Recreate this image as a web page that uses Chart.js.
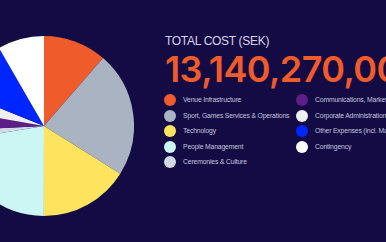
<!DOCTYPE html>
<html>
<head>
<meta charset="utf-8">
<script src="https://cdn.jsdelivr.net/npm/chart.js@4.4.0/dist/chart.umd.min.js"></script>
<style>
  html, body { margin: 0; padding: 0; }
  body {
    width: 386px; height: 242px; overflow: hidden;
    background: #140b44; position: relative;
    font-family: "Liberation Sans", Arial, sans-serif;
  }
  #pieBox { position: absolute; left: -46px; top: 36px; width: 180px; height: 180px; }
  #title { position: absolute; left: 165px; top: 34px; font-size: 12px; color: #d4d4e8; white-space: nowrap; letter-spacing: -0.3px; }
  #total { position: absolute; left: 165px; top: 47px; font-size: 36px; font-weight: 600; color: #ef5b2a; white-space: nowrap; font-family: Inter, sans-serif; letter-spacing: -0.6px; }
  .leg { position: absolute; font-size: 6.8px; color: #c4c4dc; white-space: nowrap; letter-spacing: -0.15px; }
  .leg .dot { position: absolute; width: 12px; height: 12px; border-radius: 50%; left: 0; top: 0; }
  .leg .txt { position: absolute; left: 19px; top: 2px; }
</style>
</head>
<body>
<div id="pieBox"><canvas id="costPie"></canvas></div>
<div id="title">TOTAL COST (SEK)</div>
<div id="total">13,140,270,000</div>
<div id="legend"></div>
<script>
// kostnader per post, miljoner SEK
const categories = [
  'Venue Infrastructure',
  'Sport, Games Services & Operations',
  'Technology',
  'People Management',
  'Ceremonies & Culture',
  'Communications, Marketing & Look',
  'Corporate Administration',
  'Other Expenses (incl. Marketing)',
  'Contingency'
];
const costs = [1496, 2957, 2117, 2942, 234, 471, 438, 1387, 1095];
const colors = [
  '#ef5b2a', '#a9b3c1', '#fde35e', '#cbf6f3', '#d3d8e6',
  '#5d1e88', '#efeff2', '#0026ff', '#ffffff'
];

const data = {
  labels: categories,
  datasets: [{
    data: costs,
    backgroundColor: colors,
    borderWidth: 0
  }]
};

const config = {
  type: 'pie',
  data: data,
  options: {
    responsive: true,
    maintainAspectRatio: false,
    animation: false,
    plugins: {
      legend: { display: false },
      tooltip: { enabled: false }
    }
  }
};

const costPie = new Chart(document.getElementById('costPie'), config);

// egen legend i två kolumner
var legendBox = document.getElementById('legend');
categories.forEach(function (name, i) {
  var col = i < 5 ? 0 : 1;
  var row = col == 0 ? i : i - 5;
  var el = document.createElement('div');
  el.className = 'leg';
  el.style.left = (col == 0 ? 164 : 296) + 'px';
  el.style.top = (94 + row * 15.5) + 'px';
  el.innerHTML = '<span class="dot" style="background:' + colors[i] + '"></span><span class="txt">' + name + '</span>';
  legendBox.appendChild(el);
});
</script>
</body>
</html>
